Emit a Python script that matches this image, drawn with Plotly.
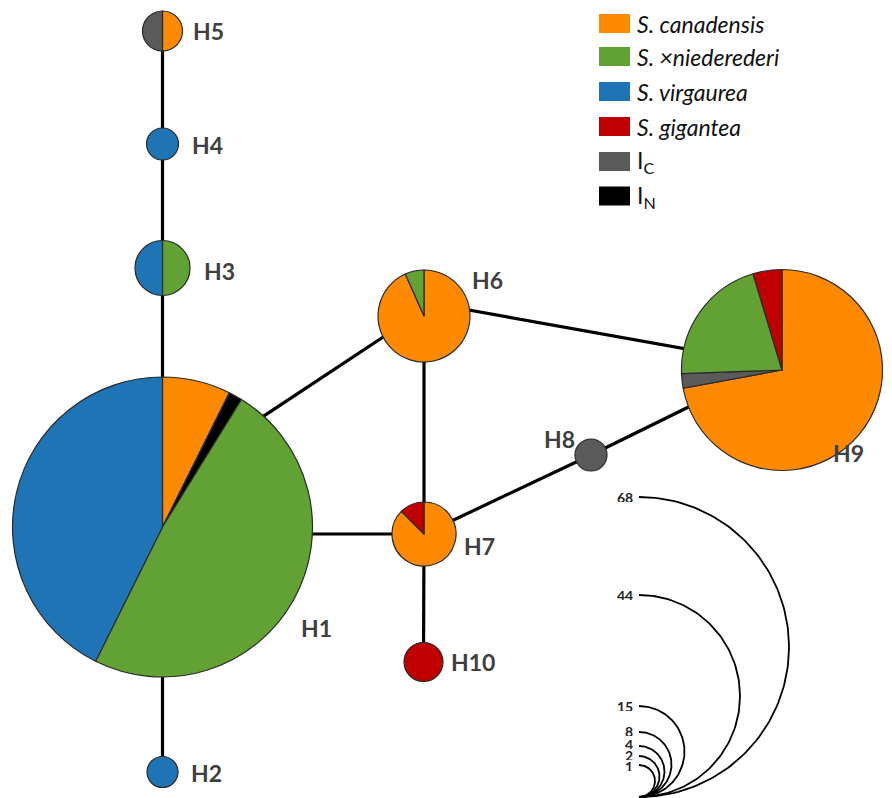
import numpy as np
import plotly.graph_objects as go

W, H = 892, 798

# ---------------- data ----------------
haplotypes = ["H1", "H2", "H3", "H4", "H5", "H6", "H7", "H8", "H9", "H10"]
species = ["S. canadensis", "S. ×niederederi", "S. virgaurea", "S. gigantea", "I<sub>C</sub>", "I<sub>N</sub>"]
canadensis  = [5, 0, 0, 0, 1, 14, 7, 0, 31, 0]
niederederi = [33, 0, 2, 0, 0, 1, 0, 0, 9, 0]
virgaurea   = [29, 1, 2, 1, 0, 0, 0, 0, 0, 0]
gigantea    = [0, 0, 0, 0, 0, 0, 1, 0, 2, 2]
i_c         = [0, 0, 0, 0, 1, 0, 0, 1, 1, 0]
i_n         = [1, 0, 0, 0, 0, 0, 0, 0, 0, 0]
edges = [("H5", "H4"), ("H4", "H3"), ("H3", "H1"), ("H1", "H2"), ("H1", "H6"),
         ("H1", "H7"), ("H6", "H7"), ("H6", "H9"), ("H7", "H8"), ("H8", "H9"),
         ("H7", "H10")]
scale_counts = [1, 2, 4, 8, 15, 44, 68]

# ---------------- styles / layout ----------------
colors = ["#FF8A00", "#62A235", "#1F74B6", "#C00000", "#5A5A5A", "#000000"]
series = [canadensis, niederederi, virgaurea, gigantea, i_c, i_n]
slice_order = [0, 5, 4, 1, 2, 3]  # clockwise order of slices from 12 o'clock

node_pos = {  # pixel centre x, y and radius
    "H1": (162.5, 527, 150), "H2": (162.5, 772, 15.5), "H3": (162.5, 268, 27.5),
    "H4": (162.5, 144, 16), "H5": (162.5, 31, 20), "H6": (424, 316, 46),
    "H7": (424, 534, 32), "H8": (591, 455, 16), "H9": (782, 370, 100.5),
    "H10": (423.5, 662, 19.5),
}
label_pos = {
    "H1": (299, 628), "H2": (189, 773), "H3": (202, 271), "H4": (190, 145),
    "H5": (191, 31), "H6": (470, 280), "H7": (462, 546), "H8": (542, 439),
    "H9": (831, 453), "H10": (449, 662),
}
edge_anchor = {  # anchor points on a node for particular edges
    ("H1", "H6"): {"H1": (162.5, 483), "H6": (424, 310)},
    ("H6", "H9"): {"H6": (424, 302), "H9": (782, 366)},
    ("H1", "H7"): {"H1": (162.5, 534)},
    ("H8", "H9"): {"H9": (782, 361)},
}
scale_radii = [16, 20.5, 25.5, 32.5, 45.5, 101, 150]
scale_label_y = [766, 755, 744, 731, 706, 595, 497]
scale_base = (639, 797)

fig = go.Figure()

# edges
for a, b in edges:
    anc = edge_anchor.get((a, b), {})
    pa = anc.get(a, node_pos[a][:2])
    pb = anc.get(b, node_pos[b][:2])
    fig.add_trace(go.Scatter(x=[pa[0], pb[0]], y=[pa[1], pb[1]], mode="lines",
                             line=dict(color="black", width=3.2),
                             showlegend=False, hoverinfo="skip"))

# size scale arcs
bx, by = scale_base
for cnt, r, ly in zip(scale_counts, scale_radii, scale_label_y):
    t = np.linspace(np.pi / 2, -np.pi / 2, 120)
    cy = by - r
    fig.add_trace(go.Scatter(x=bx + r * np.cos(t), y=cy - r * np.sin(t), mode="lines",
                             line=dict(color="black", width=1.8),
                             showlegend=False, hoverinfo="skip"))
    fig.add_annotation(x=bx - 5, y=ly, text=f"<b>{cnt}</b>", showarrow=False,
                       xanchor="right", yanchor="middle", height=10,
                       borderpad=0,
                       font=dict(family="Lato", size=14, color="#222222"))

# pies
for i, h in enumerate(haplotypes):
    cx, cy, r = node_pos[h]
    labels, vals, cols = [], [], []
    for k in slice_order:
        v = series[k][i]
        if v > 0:
            labels.append(species[k]); vals.append(v); cols.append(colors[k])
    fig.add_trace(go.Pie(labels=labels, values=vals, sort=False, direction="clockwise",
                         rotation=0, textinfo="none", textposition="none",
                         showlegend=False,
                         marker=dict(colors=cols, line=dict(color="#2a2a2a", width=1.2)),
                         domain=dict(x=[(cx - r) / W, (cx + r) / W],
                                     y=[1 - (cy + r) / H, 1 - (cy - r) / H]),
                         name=h, hoverinfo="label+value"))
    lx, ly = label_pos[h]
    fig.add_annotation(x=lx, y=ly, text=f"<b>{h}</b>", showarrow=False,
                       xanchor="left", yanchor="middle",
                       font=dict(family="Lato", size=23, color="#404040"))

# legend
leg_y = [23.5, 56.5, 91.5, 126.5, 161.5, 196]
for k, (name, col) in enumerate(zip(species, colors)):
    y = leg_y[k]
    fig.add_shape(type="rect", x0=599, x1=630, y0=y - 9.5, y1=y + 9.5,
                  xref="x", yref="y", fillcolor=col, line=dict(width=0))
    txt = f"<i>{name}</i>" if k < 4 else name
    fig.add_annotation(x=635, y=y, text=txt, showarrow=False, xanchor="left",
                       yanchor="middle",
                       font=dict(family="Lato", size=23, color="#111111"))

fig.update_layout(
    width=W, height=H, autosize=False,
    margin=dict(l=0, r=0, t=0, b=0),
    paper_bgcolor="white", plot_bgcolor="white",
    xaxis=dict(range=[0, W], visible=False, fixedrange=True),
    yaxis=dict(range=[H, 0], visible=False, fixedrange=True),
)
fig.write_html("out.html", config={"displayModeBar": False},
               post_script="document.body.style.margin='0';")
